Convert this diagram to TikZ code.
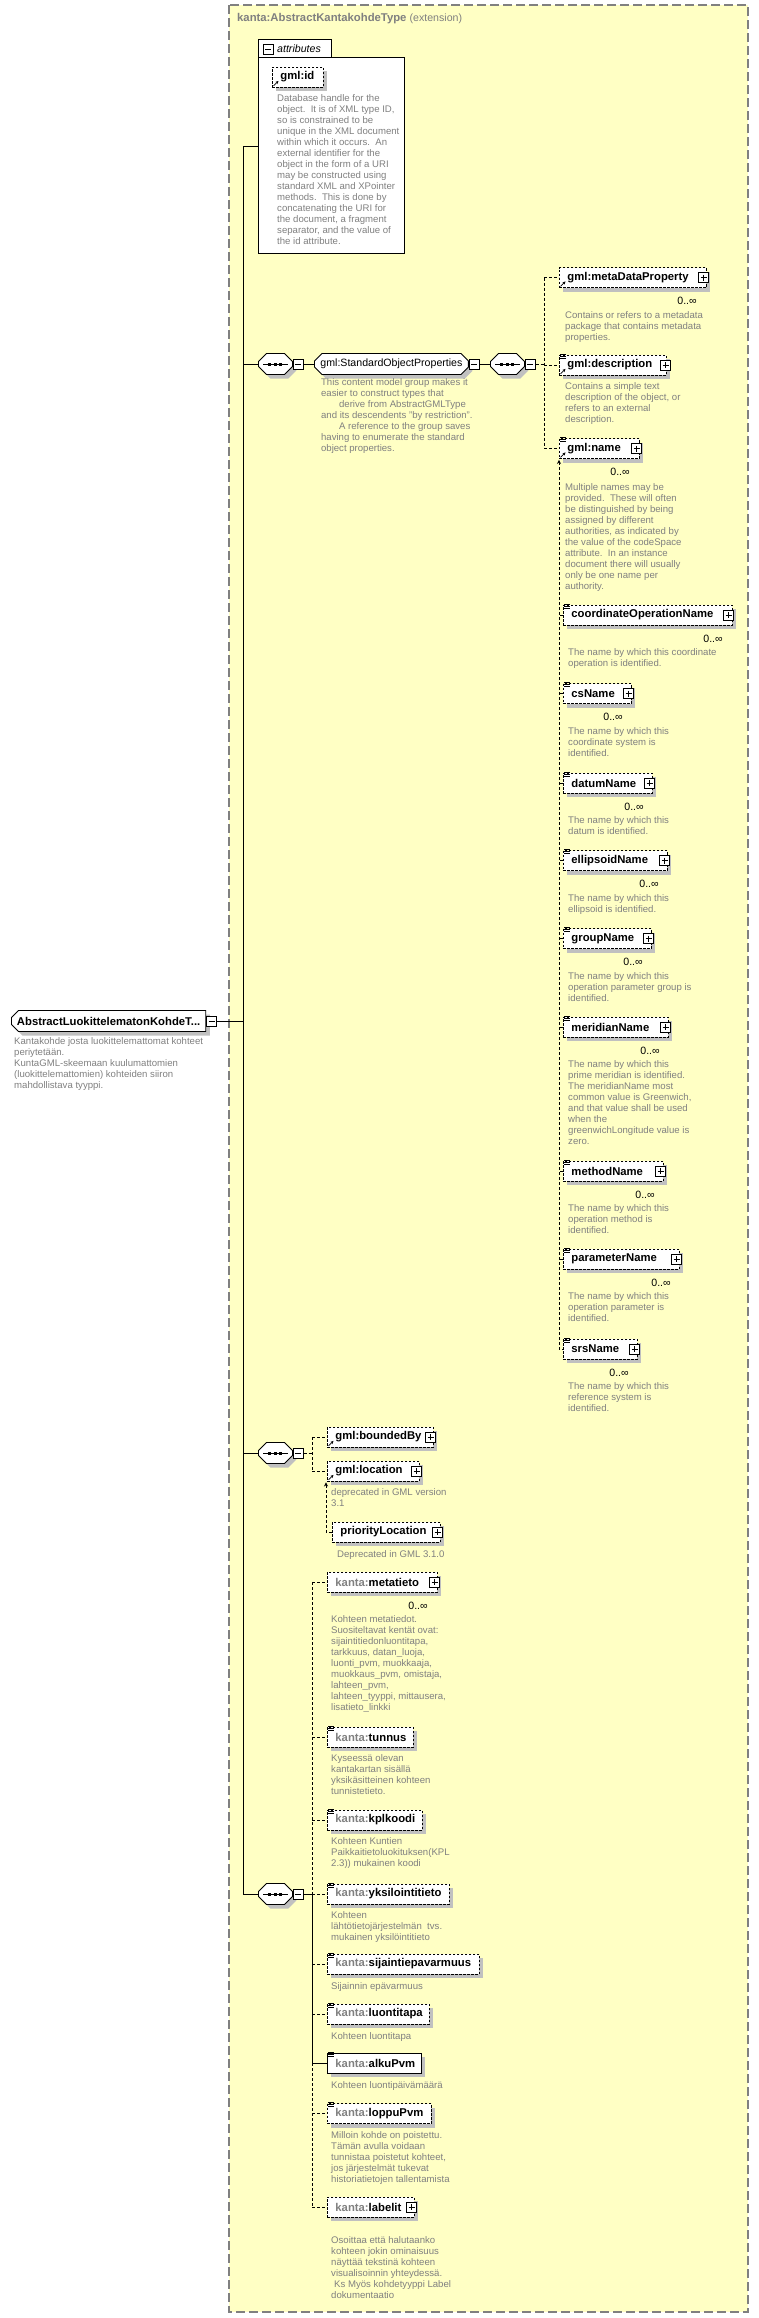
\documentclass[tikz,border=0pt]{standalone}
\usepackage{fontspec}
\setmainfont{Liberation Sans}
\usetikzlibrary{positioning}
\usetikzlibrary{shapes.misc, shadows, arrows.meta}

\definecolor{docgray}{RGB}{128,128,128}
\definecolor{extyellow}{RGB}{255,255,196}
\definecolor{shadowgray}{RGB}{192,192,192}

\tikzset{
  elshadow/.style={drop shadow={shadow xshift=4pt, shadow yshift=-4pt, fill=shadowgray, opacity=1}},
  elreq/.style={draw=black, line width=0.9pt, fill=white, anchor=west, inner xsep=8pt, inner ysep=0pt,
    minimum height=20pt, align=left, font=\fontsize{11.3}{13}\selectfont\bfseries, elshadow},
  elopt/.style={elreq, dash pattern=on 2.5pt off 1.5pt},
  seqbox/.style={chamfered rectangle, chamfered rectangle sep=4pt, draw=black, line width=0.9pt, fill=white,
    inner sep=0pt, anchor=west, elshadow},
  grpbox/.style={chamfered rectangle, chamfered rectangle xsep=4pt, draw=black, line width=0.9pt, fill=white,
    minimum width=151pt, minimum height=21pt, inner xsep=2pt, inner ysep=0pt, anchor=west,
    font=\fontsize{10.6}{12}\selectfont, elshadow},
  minusbox/.style={draw=black, line width=0.8pt, fill=white, minimum size=10pt, inner sep=0pt, anchor=west,
    path picture={\draw[line width=0.8pt] ([xshift=2pt]path picture bounding box.west) -- ([xshift=-2pt]path picture bounding box.east);}},
  plusbox/.style={minusbox, anchor=east,
    path picture={\draw[line width=0.8pt] ([xshift=2pt]path picture bounding box.west) -- ([xshift=-2pt]path picture bounding box.east)
      ([yshift=-2pt]path picture bounding box.north) -- ([yshift=2pt]path picture bounding box.south);}},
  doc/.style={anchor=north west, inner sep=0pt, align=left, text=docgray,
    font=\fontsize{9.6}{11}\selectfont, execute at begin node=\strut},
  occ/.style={anchor=north east, inner sep=0pt, font=\fontsize{10.6}{12}\selectfont},
  conn/.style={draw=black, line width=0.9pt},
  optconn/.style={conn, dash pattern=on 3pt off 2pt},
}

% small marks on the element boxes
\newcommand{\simpleicon}[1]{\draw[line width=0.6pt] ([shift={(1pt,0.5pt)}]#1.north west) -- ++(6pt,0pt)
  ([shift={(1pt,-1.5pt)}]#1.north west) -- ++(6pt,0pt) ([shift={(1pt,-3.5pt)}]#1.north west) -- ++(6pt,0pt);}
\newcommand{\refarrow}[1]{\draw[line width=0.7pt, -{Stealth[length=3pt,width=3pt]}] ([shift={(1.5pt,1.5pt)}]#1.south west) -- ++(5pt,5pt);}
\newcommand{\seqdots}[1]{\draw[line width=0.8pt] ([xshift=5pt]#1.west) -- ([xshift=-5pt]#1.east);
  \fill ([shift={(-7pt,-1.5pt)}]#1.center) rectangle ++(3pt,3pt);
  \fill ([shift={(-1.5pt,-1.5pt)}]#1.center) rectangle ++(3pt,3pt);
  \fill ([shift={(4pt,-1.5pt)}]#1.center) rectangle ++(3pt,3pt);}
\newcommand{\kanta}{{\color{docgray}kanta:}}
\newcommand{\seqfill}{\rule{26pt}{0pt}\rule[-6.5pt]{0pt}{13pt}}

\begin{document}
\begin{tikzpicture}[x=1pt, y=-1pt]
\useasboundingbox (0,0) rectangle (759,2318);

% extension frame
\draw[draw=docgray, line width=1.2pt, dash pattern=on 9pt off 4pt, fill=extyellow] (229,5) rectangle (748,2312);
\node[anchor=west, inner sep=0pt, text=docgray] (exttitle) at (237,19) {\fontsize{11.3}{13}\selectfont\bfseries kanta:AbstractKantakohdeType \fontsize{10.6}{12}\selectfont\mdseries(extension)};

% root element
\node[elreq, chamfered rectangle, chamfered rectangle xsep=3.5pt, chamfered rectangle corners={north west,south west}, inner xsep=2pt, minimum height=21pt] (root) at (11,1021) {AbstractLuokittelematonKohdeT...};
\node[minusbox] (rootm) at (root.east) {};
\node[doc] (rootdoc) at (14,1037) {Kantakohde josta luokittelemattomat kohteet\\periytetään.\\KuntaGML-skeemaan kuulumattomien\\(luokittelemattomien) kohteiden siiron\\mahdollistava tyyppi.};

% attributes
\node[draw=black, line width=0.9pt, fill=white, anchor=north west, minimum width=73pt, minimum height=18pt, inner sep=0pt] (attrtab) at (258,39) {};
\node[draw=black, line width=0.9pt, fill=white, anchor=north west, minimum width=146pt, minimum height=196pt, inner sep=0pt] (attr) at (258,57) {};
\node[minusbox, anchor=north west] (attrm) at (263,44) {};
\node[anchor=west, inner sep=0pt, font=\fontsize{10.6}{12}\selectfont\itshape] (attrlbl) at (277,49) {attributes};
\node[elopt, text width=35pt] (gmlid) at (272,77) {gml:id};
\refarrow{gmlid}
\node[doc, below right=7pt and 5pt of gmlid.south west] (gmliddoc) {Database handle for the\\object.\ \ It is of XML type ID,\\so is constrained to be\\unique in the XML document\\within which it occurs.\ \ An\\external identifier for the\\object in the form of a URI\\may be constructed using\\standard XML and XPointer\\methods.\ \ This is done by\\concatenating the URI for\\the document, a fragment\\separator, and the value of\\the id attribute.};

% standard object properties
\node[seqbox] (s1) at (258,364) {\seqfill};
\seqdots{s1}
\node[minusbox] (s1m) at (s1.east) {};
\node[grpbox] (sop) at (314,364) {gml:StandardObjectProperties};
\node[minusbox] (sopm) at (sop.east) {};
\node[doc, below right=7pt and 3pt of sop.south west] (sopdoc) {This content model group makes it\\easier to construct types that\\\hspace*{18pt}derive from AbstractGMLType\\and its descendents "by restriction".\\\hspace*{18pt}A reference to the group saves\\having to enumerate the standard\\object properties.};
\node[seqbox] (s2) at (490,364) {\seqfill};
\seqdots{s2}
\node[minusbox] (s2m) at (s2.east) {};

\node[elopt, text width=131pt] (mdp) at (559,277.5) {gml:metaDataProperty};
\node[plusbox] (mdpp) at ([xshift=2pt]mdp.east) {};
\refarrow{mdp}
\node[occ, below left=9pt and 10pt of mdp.south east] (mdpocc) {0..∞};
\node[doc, below right=23pt and 6pt of mdp.south west] (mdpdoc) {Contains or refers to a metadata\\package that contains metadata\\properties.};

\node[elopt, text width=91pt] (dsc) at (559,365) {gml:description};
\node[plusbox] (dscp) at ([xshift=4pt]dsc.east) {};
\simpleicon{dsc}
\refarrow{dsc}
\node[doc, below right=7pt and 6pt of dsc.south west] (dscdoc) {Contains a simple text\\description of the object, or\\refers to an external\\description.};

\node[elopt, text width=64pt] (name) at (559,448.5) {gml:name};
\node[plusbox] (namep) at ([xshift=2pt]name.east) {};
\simpleicon{name}
\refarrow{name}
\node[occ, below left=9pt and 10pt of name.south east] (nameocc) {0..∞};
\node[doc, below right=24pt and 6pt of name.south west] (namedoc) {Multiple names may be\\provided.\ \ These will often\\be distinguished by being\\assigned by different\\authorities, as indicated by\\the value of the codeSpace\\attribute.\ \ In an instance\\document there will usually\\only be one name per\\authority.};

% substitution group of gml:name
\node[elopt, text width=153pt] (copn) at (563,615) {coordinateOperationName};
\node[plusbox] (copnp) at ([xshift=1pt]copn.east) {};
\simpleicon{copn}
\node[occ, below left=9pt and 10pt of copn.south east] (copnocc) {0..∞};
\node[doc, below right=23pt and 5pt of copn.south west] (copndoc) {The name by which this coordinate\\operation is identified.};

\node[elopt, text width=52pt] (csn) at (563,693.5) {csName};
\node[plusbox] (csnp) at ([xshift=2pt]csn.east) {};
\simpleicon{csn}
\node[occ, below left=9pt and 9pt of csn.south east] (csnocc) {0..∞};
\node[doc, below right=23pt and 5pt of csn.south west] (csndoc) {The name by which this\\coordinate system is\\identified.};

\node[elopt, text width=73pt] (datn) at (563,783) {datumName};
\node[plusbox] (datnp) at ([xshift=2pt]datn.east) {};
\simpleicon{datn}
\node[occ, below left=9pt and 9pt of datn.south east] (datnocc) {0..∞};
\node[doc, below right=23pt and 5pt of datn.south west] (datndoc) {The name by which this\\datum is identified.};

\node[elopt, text width=88pt] (elln) at (563,860.5) {ellipsoidName};
\node[plusbox] (ellnp) at ([xshift=2pt]elln.east) {};
\simpleicon{elln}
\node[occ, below left=9pt and 9pt of elln.south east] (ellnocc) {0..∞};
\node[doc, below right=23pt and 5pt of elln.south west] (ellndoc) {The name by which this\\ellipsoid is identified.};

\node[elopt, text width=72pt] (grpn) at (563,938.5) {groupName};
\node[plusbox] (grpnp) at ([xshift=2pt]grpn.east) {};
\simpleicon{grpn}
\node[occ, below left=9pt and 9pt of grpn.south east] (grpnocc) {0..∞};
\node[doc, below right=23pt and 5pt of grpn.south west] (grpndoc) {The name by which this\\operation parameter group is\\identified.};

\node[elopt, text width=89pt] (mern) at (563,1027) {meridianName};
\node[plusbox] (mernp) at ([xshift=2pt]mern.east) {};
\simpleicon{mern}
\node[occ, below left=9pt and 9pt of mern.south east] (mernocc) {0..∞};
\node[doc, below right=23pt and 5pt of mern.south west] (merndoc) {The name by which this\\prime meridian is identified.\\The meridianName most\\common value is Greenwich,\\and that value shall be used\\when the\\greenwichLongitude value is\\zero.};

\node[elopt, text width=84pt] (metn) at (563,1171) {methodName};
\node[plusbox] (metnp) at ([xshift=2pt]metn.east) {};
\simpleicon{metn}
\node[occ, below left=9pt and 9pt of metn.south east] (metnocc) {0..∞};
\node[doc, below right=23pt and 5pt of metn.south west] (metndoc) {The name by which this\\operation method is\\identified.};

\node[elopt, text width=100pt] (parn) at (563,1259) {parameterName};
\node[plusbox] (parnp) at ([xshift=2pt]parn.east) {};
\simpleicon{parn}
\node[occ, below left=9pt and 9pt of parn.south east] (parnocc) {0..∞};
\node[doc, below right=23pt and 5pt of parn.south west] (parndoc) {The name by which this\\operation parameter is\\identified.};

\node[elopt, text width=58pt] (srsn) at (563,1349) {srsName};
\node[plusbox] (srsnp) at ([xshift=2pt]srsn.east) {};
\simpleicon{srsn}
\node[occ, below left=9pt and 9pt of srsn.south east] (srsnocc) {0..∞};
\node[doc, below right=23pt and 5pt of srsn.south west] (srsndoc) {The name by which this\\reference system is\\identified.};

% bounded by / location
\node[seqbox] (s3) at (258,1453) {\seqfill};
\seqdots{s3}
\node[minusbox] (s3m) at (s3.east) {};
\node[elopt, text width=90pt] (bby) at (327,1437) {gml:boundedBy};
\node[plusbox] (bbyp) at ([xshift=2pt]bby.east) {};
\refarrow{bby}
\node[elopt, text width=76pt] (loc) at (327,1471) {gml:location};
\node[plusbox] (locp) at ([xshift=2pt]loc.east) {};
\refarrow{loc}
\node[doc, below right=7pt and 4pt of loc.south west] (locdoc) {deprecated in GML version\\3.1};
\node[elopt, text width=92pt] (ploc) at (332,1532) {priorityLocation};
\node[plusbox] (plocp) at ([xshift=2pt]ploc.east) {};
\node[doc, below right=7pt and 5pt of ploc.south west] (plocdoc) {Deprecated in GML 3.1.0};

% kanta properties
\node[seqbox] (s4) at (258,1894) {\seqfill};
\seqdots{s4}
\node[minusbox] (s4m) at (s4.east) {};
\node[elopt, text width=94pt] (meta) at (327,1582) {\kanta metatieto};
\node[plusbox] (metap) at ([xshift=2pt]meta.east) {};
\node[occ, below left=9pt and 10pt of meta.south east] (metaocc) {0..∞};
\node[doc, below right=23pt and 4pt of meta.south west] (metadoc) {Kohteen metatiedot.\\Suositeltavat kentät ovat:\\sijaintitiedonluontitapa,\\tarkkuus, datan\_luoja,\\luonti\_pvm, muokkaaja,\\muokkaus\_pvm, omistaja,\\lahteen\_pvm,\\lahteen\_tyyppi, mittausera,\\lisatieto\_linkki};

\node[elopt, text width=70pt] (tun) at (327,1737) {\kanta tunnus};
\simpleicon{tun}
\node[doc, below right=7pt and 4pt of tun.south west] (tundoc) {Kyseessä olevan\\kantakartan sisällä\\yksikäsitteinen kohteen\\tunnistetieto.};

\node[elopt, text width=79pt] (kpl) at (327,1820) {\kanta kplkoodi};
\simpleicon{kpl}
\node[doc, below right=7pt and 4pt of kpl.south west] (kpldoc) {Kohteen Kuntien\\Paikkaitietoluokituksen(KPL\\2.3)) mukainen koodi};

\node[elopt, text width=106pt] (yks) at (327,1894) {\kanta yksilointitieto};
\simpleicon{yks}
\node[doc, below right=7pt and 4pt of yks.south west] (yksdoc) {Kohteen\\lähtötietojärjestelmän\ \ tvs.\\mukainen yksilöintitieto};

\node[elopt, text width=136pt] (sij) at (327,1964) {\kanta sijaintiepavarmuus};
\simpleicon{sij}
\node[doc, below right=7pt and 4pt of sij.south west] (sijdoc) {Sijainnin epävarmuus};

\node[elopt, text width=86pt] (luo) at (327,2014) {\kanta luontitapa};
\simpleicon{luo}
\node[doc, below right=7pt and 4pt of luo.south west] (luodoc) {Kohteen luontitapa};

\node[elreq, text width=78pt] (alku) at (327,2063) {\kanta alkuPvm};
\simpleicon{alku}
\node[doc, below right=7pt and 4pt of alku.south west] (alkudoc) {Kohteen luontipäivämäärä};

\node[elopt, text width=88pt] (lop) at (327,2113.5) {\kanta loppuPvm};
\simpleicon{lop}
\node[doc, below right=7pt and 4pt of lop.south west] (lopdoc) {Milloin kohde on poistettu.\\Tämän avulla voidaan\\tunnistaa poistetut kohteet,\\jos järjestelmät tukevat\\historiatietojen tallentamista};

\node[elopt, text width=71pt] (lab) at (327,2207) {\kanta labelit};
\node[plusbox] (labp) at ([xshift=2pt]lab.east) {};
\node[doc, below right=19pt and 4pt of lab.south west] (labdoc) {Osoittaa että halutaanko\\kohteen jokin ominaisuus\\näyttää tekstinä kohteen\\visualisoinnin yhteydessä.\\\hspace*{3pt}Ks Myös kohdetyyppi Label\\dokumentaatio};

% main spine
\coordinate (spine) at (243,1021);
\coordinate (attrin) at ([yshift=9pt]attr.west);
\draw[conn] (attrin -| spine) -- (s4.west -| spine);
\draw[conn] (attrin -| spine) -- (attrin);
\draw[conn] (s1.west -| spine) -- (s1.west);
\draw[conn] (s3.west -| spine) -- (s3.west);
\draw[conn] (s4.west -| spine) -- (s4.west);
\draw[conn] (rootm.east) -- (spine);

% group chain
\draw[conn] (s1m.east) -- (sop.west);
\draw[conn] (sopm.east) -- (s2.west);
\coordinate (sp2) at (544,364);
\draw[optconn] (s2m.east) -- (sp2);
\draw[optconn] (sp2 |- mdp.west) -- (sp2 |- name.west);
\draw[optconn] (sp2 |- mdp.west) -- (mdp.west);
\draw[optconn] (sp2 |- dsc.west) -- (dsc.west);
\draw[optconn] (sp2 |- name.west) -- (name.west);

% substitution members
\draw[optconn, {Stealth[length=4pt,width=4pt]}-] ([yshift=-1pt]name.south west) |- (srsn.west);
\draw[optconn] (copn.west) -- ++(-4,0);
\draw[optconn] (csn.west) -- ++(-4,0);
\draw[optconn] (datn.west) -- ++(-4,0);
\draw[optconn] (elln.west) -- ++(-4,0);
\draw[optconn] (grpn.west) -- ++(-4,0);
\draw[optconn] (mern.west) -- ++(-4,0);
\draw[optconn] (metn.west) -- ++(-4,0);
\draw[optconn] (parn.west) -- ++(-4,0);

% bounded by / location connectors
\coordinate (sp3) at (312,1453);
\draw[optconn] (s3m.east) -- (sp3);
\draw[optconn] (sp3 |- bby.west) -- (sp3 |- loc.west);
\draw[optconn] (sp3 |- bby.west) -- (bby.west);
\draw[optconn] (sp3 |- loc.west) -- (loc.west);
\draw[optconn, {Stealth[length=4pt,width=4pt]}-] ([shift={(-1pt,-1pt)}]loc.south west) |- (ploc.west);

% kanta connectors
\coordinate (sp4) at (312,1894);
\draw[conn] (s4m.east) -- (sp4);
\draw[optconn] (sp4 |- meta.west) -- (sp4);
\draw[conn] (sp4) -- (sp4 |- alku.west);
\draw[optconn] (sp4 |- alku.west) -- (sp4 |- lab.west);
\draw[optconn] (sp4 |- meta.west) -- (meta.west);
\draw[optconn] (sp4 |- tun.west) -- (tun.west);
\draw[optconn] (sp4 |- kpl.west) -- (kpl.west);
\draw[optconn] (sp4) -- (yks.west);
\draw[optconn] (sp4 |- sij.west) -- (sij.west);
\draw[optconn] (sp4 |- luo.west) -- (luo.west);
\draw[conn] (sp4 |- alku.west) -- (alku.west);
\draw[optconn] (sp4 |- lop.west) -- (lop.west);
\draw[optconn] (sp4 |- lab.west) -- (lab.west);
\end{tikzpicture}
\end{document}
